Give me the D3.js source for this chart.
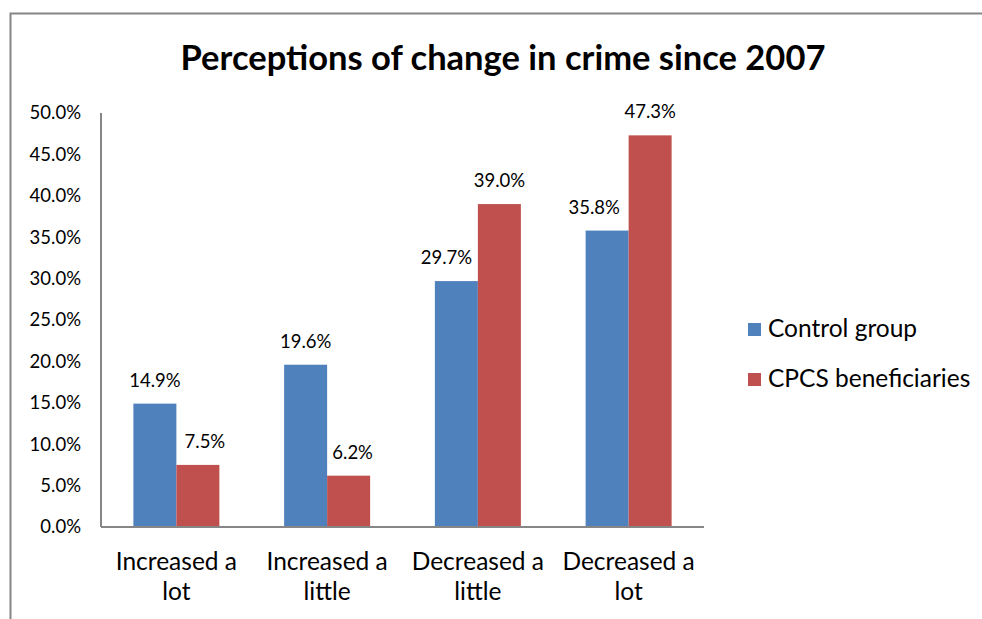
<!DOCTYPE html>
<html><head><meta charset="utf-8">
<script src="https://cdn.jsdelivr.net/npm/d3@7"></script>
<style>body{margin:0;background:#fff}svg{display:block}text{font-family:Lato,"Open Sans",sans-serif;fill:#000}</style>
</head><body><svg id="c" width="982" height="619"></svg>
<script>
const categories = [["Increased a","lot"],["Increased a","little"],["Decreased a","little"],["Decreased a","lot"]];
const seriesNames = ["Control group","CPCS beneficiaries"];
const control = [14.9, 19.6, 29.7, 35.8];
const cpcs = [7.5, 6.2, 39.0, 47.3];
const yTicks = [0,5,10,15,20,25,30,35,40,45,50];
const colors = ["#4F81BD","#C0504D"];
const title = "Perceptions of change in crime since 2007";

const svg = d3.select("#c");
svg.append("rect").attr("x",10.5).attr("y",13.5).attr("width",990).attr("height",700)
  .attr("fill","none").attr("stroke","#868686").attr("stroke-width",2);

const L=101, R=704, T=113, B=527;
const y = d3.scaleLinear().domain([0,50]).range([B,T]);
const x0 = d3.scaleBand().domain(d3.range(categories.length)).range([L,R]);
const x1 = d3.scaleBand().domain([0,1]).range([0,86]);
// horizontal nudges of data labels (layout only), [series][category]
const labelDx = [[0,0,-10,-13],[7,4,0,0]];

svg.append("text").attr("x",503).attr("y",70).attr("text-anchor","middle")
  .style("font-size","34.5px").style("font-weight","bold").text(title);

const yAx = d3.axisLeft(y).tickValues(yTicks).tickSize(0).tickPadding(20).tickFormat(d=>d.toFixed(1)+"%");
const gy = svg.append("g").attr("transform",`translate(${L},0)`).call(yAx);
gy.select(".domain").remove();
gy.selectAll("text").style("font-size","18.5px").style("font-family","Lato,sans-serif").attr("fill","#000");

const data = [control, cpcs];
const g = svg.append("g");
categories.forEach((c,i)=>{
  data.forEach((s,j)=>{
    const bx = x0(i) + (x0.bandwidth()-86)/2 + x1(j);
    g.append("rect").attr("x",bx).attr("y",y(s[i])).attr("width",x1.bandwidth()).attr("height",B-y(s[i]))
      .attr("fill",colors[j]);
    g.append("text").attr("x",bx+x1.bandwidth()/2+labelDx[j][i]).attr("y",y(s[i])-17).attr("text-anchor","middle")
      .style("font-size","18.5px").text(s[i].toFixed(1)+"%");
  });
});

svg.append("line").attr("x1",L).attr("x2",L).attr("y1",T).attr("y2",B).attr("stroke","#868686").attr("stroke-width",2);
svg.append("line").attr("x1",L).attr("x2",R).attr("y1",B).attr("y2",B).attr("stroke","#868686").attr("stroke-width",2);

categories.forEach((c,i)=>{
  const cx = x0(i)+x0.bandwidth()/2;
  c.forEach((ln,k)=>{
    svg.append("text").attr("x",cx).attr("y",570+k*30).attr("text-anchor","middle")
      .style("font-size","24.5px").text(ln);
  });
});

seriesNames.forEach((n,j)=>{
  const ly = 329 + j*50;
  svg.append("rect").attr("x",748).attr("y",ly-6).attr("width",13).attr("height",13).attr("fill",colors[j]);
  svg.append("text").attr("x",768).attr("y",ly+8).style("font-size","24.5px").text(n);
});
</script></body></html>
